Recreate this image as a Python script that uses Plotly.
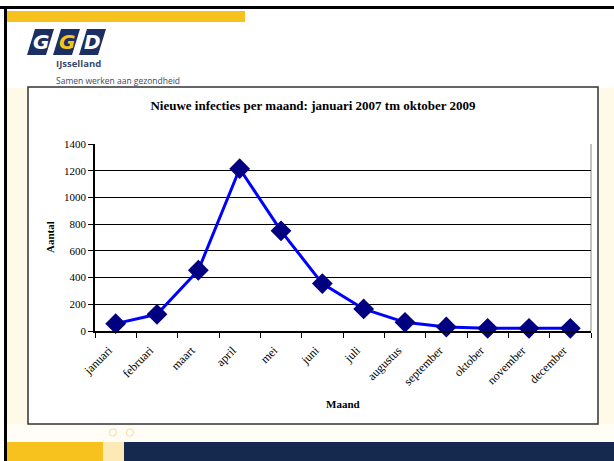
import plotly.graph_objects as go

# ---- data ----
months = ["januari", "februari", "maart", "april", "mei", "juni", "juli",
          "augustus", "september", "oktober", "november", "december"]
infections = [55, 125, 455, 1215, 750, 355, 165, 65, 30, 20, 20, 20]
y_ticks = [0, 200, 400, 600, 800, 1000, 1200, 1400]

title_text = "Nieuwe infecties per maand: januari 2007 tm oktober 2009"
x_title = "Maand"
y_title = "Aantal"

W, H = 614, 461
L, R, T, B = 95, 591, 144, 331  # plot area in pixels


def px(x):
    return (x - L) / (R - L)


def py(y):
    return (B - y) / (B - T)


SERIF = "Liberation Serif, Times New Roman, serif"
SANS = "Open Sans, DejaVu Sans, sans-serif"
CREAM = "#FFFAE8"
YELLOW = "#F8C21E"
NAVY = "#15294F"

fig = go.Figure()
fig.add_trace(go.Scatter(
    x=months, y=infections, mode="lines+markers",
    line=dict(color="#0000FF", width=3),
    marker=dict(symbol="diamond", size=16, color="#000080",
                line=dict(color="#000080", width=0)),
    showlegend=False, cliponaxis=False,
))

shapes = []


def rect(x0, y0, x1, y1, fill, line_color=None, lw=0, layer="below"):
    shapes.append(dict(type="rect", xref="paper", yref="paper",
                       x0=px(x0), x1=px(x1), y0=py(y1), y1=py(y0),
                       fillcolor=fill,
                       line=dict(color=line_color or fill, width=lw),
                       layer=layer))


# slide decorations
rect(7, 88, 28, 424, CREAM)
rect(599, 88, 614, 424, CREAM)
rect(7, 424, 614, 442, "#FFFDF5")
rect(7, 11, 245, 22, YELLOW)
rect(7, 442, 103, 461, YELLOW)
rect(103, 442, 124, 461, "#FCE9B5")
rect(124, 442, 614, 461, NAVY)
rect(0, 6, 614, 9, "#000000")
rect(4, 6, 7, 461, "#000000")
# chart box
rect(28, 87, 598, 424, "#FFFFFF", "#333333", 1.5)
# small circles
for cx in (113, 130):
    shapes.append(dict(type="circle", xref="paper", yref="paper",
                       x0=px(cx - 3.5), x1=px(cx + 3.5), y0=py(436), y1=py(429),
                       line=dict(color="#F3E3B0", width=1.2), layer="below"))
# logo parallelograms
for i in range(3):
    x0 = 27 + i * 26
    path = "M {a},{b} L {c},{b} L {d},{e} L {f},{e} Z".format(
        a=px(x0 + 8), c=px(x0 + 27), d=px(x0 + 19), f=px(x0), b=py(29), e=py(55))
    shapes.append(dict(type="path", xref="paper", yref="paper", path=path,
                       fillcolor="#1B2F63", line=dict(width=0), layer="below"))

annotations = []
for i, (ch, col) in enumerate([("G", "#FFFFFF"), ("G", "#F5C518"), ("D", "#FFFFFF")]):
    annotations.append(dict(text="<b><i>" + ch + "</i></b>", xref="paper", yref="paper",
                            x=px(27 + i * 26 + 13.5), y=py(42), showarrow=False,
                            font=dict(family="DejaVu Sans", size=20, color=col),
                            xanchor="center", yanchor="middle"))
annotations.append(dict(text="<b>IJsselland</b>", xref="paper", yref="paper",
                        x=px(54), y=py(63), showarrow=False, xanchor="left", yanchor="middle",
                        font=dict(family=SANS, size=9.5, color="#3C4A68")))
annotations.append(dict(text="Samen werken aan gezondheid", xref="paper", yref="paper",
                        x=px(54), y=py(80), showarrow=False, xanchor="left", yanchor="middle",
                        font=dict(family=SANS, size=8.5, color="#3C4A68")))
annotations.append(dict(text="<b>" + y_title + "</b>", xref="paper", yref="paper",
                        x=px(50), y=py(237), showarrow=False, textangle=-90,
                        xanchor="center", yanchor="middle",
                        font=dict(family=SERIF, size=11, color="#000000")))
annotations.append(dict(text="<b>" + x_title + "</b>", xref="paper", yref="paper",
                        x=px(343), y=py(404), showarrow=False,
                        xanchor="center", yanchor="middle",
                        font=dict(family=SERIF, size=11, color="#000000")))

fig.update_layout(
    width=W, height=H,
    margin=dict(l=L, r=W - R, t=T, b=H - B, autoexpand=False),
    paper_bgcolor="#FFFFFF", plot_bgcolor="rgba(0,0,0,0)",
    title=dict(text="<b>" + title_text + "</b>", x=313 / W, y=1 - 105 / H,
               xanchor="center", yanchor="middle",
               font=dict(family=SERIF, size=13, color="#000000")),
    shapes=shapes, annotations=annotations,
    xaxis=dict(type="category", range=[-0.5, 11.5], tickson="boundaries",
               ticks="outside", ticklen=5, tickcolor="#000000", tickwidth=1,
               tickangle=-45, ticklabelstandoff=6, ticklabelshift=-7,
               showgrid=False, zeroline=False,
               showline=True, linecolor="#000000", linewidth=1.5,
               tickfont=dict(family=SERIF, size=12, color="#000000")),
    yaxis=dict(range=[0, 1400], tickvals=y_ticks, ticks="outside", ticklen=5,
               tickcolor="#000000", showgrid=True, gridcolor="#000000", gridwidth=1,
               zeroline=False, showline=True, linecolor="#000000", linewidth=1.5,
               mirror=False,
               tickfont=dict(family=SERIF, size=11, color="#000000")),
)
# right border of plot area
fig.add_shape(type="line", xref="paper", yref="paper", x0=1, x1=1, y0=0, y1=1,
              line=dict(color="#888888", width=1), layer="below")

fig.write_html("out.html", config={"displayModeBar": False},
               post_script="document.body.style.margin='0';document.body.style.overflow='hidden';")
